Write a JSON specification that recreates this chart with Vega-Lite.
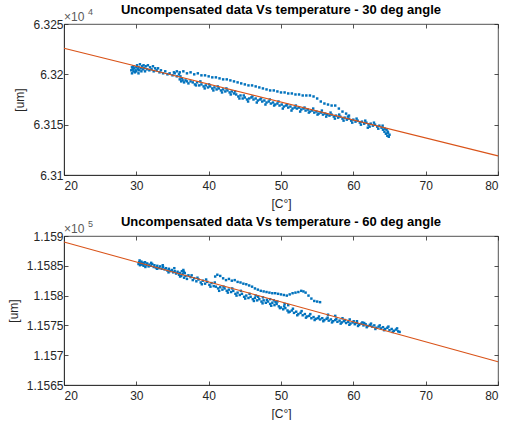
{
  "$schema": "https://vega.github.io/schema/vega-lite/v6.json",
  "padding": {"top": 3, "left": 6, "right": 0, "bottom": 0},
  "spacing": 5,
  "config": {
    "font": "Liberation Sans",
    "view": {"stroke": "#262626", "strokeWidth": 0.8},
    "axis": {
      "labelFont": "Liberation Sans", "titleFont": "Liberation Sans",
      "labelFontSize": 12, "labelColor": "#262626",
      "titleFontSize": 12, "titleFontWeight": "normal", "titleColor": "#262626",
      "domainColor": "#262626", "tickColor": "#262626", "domainWidth": 0.8, "tickWidth": 0.8,
      "tickSize": -4, "grid": false
    },
    "axisX": {"labelPadding": 9, "titlePadding": 7},
    "axisY": {"labelPadding": 5, "titlePadding": 6},
    "title": {"font": "Liberation Sans", "fontSize": 13, "fontWeight": "bold", "color": "#000000", "offset": -9}
  },
  "datasets": {
    "d30": [
      {"T":29.3,"v":6.3204},{"T":29.4,"v":6.3207},{"T":29.4,"v":6.3201},{"T":29.5,"v":6.3205},{"T":29.6,"v":6.3203},{"T":29.6,"v":6.3208},{"T":29.7,"v":6.3206},{"T":29.8,"v":6.3202},{"T":29.9,"v":6.3204},{"T":30.0,"v":6.3207},{"T":30.0,"v":6.3203},{"T":30.1,"v":6.3209},{"T":30.2,"v":6.3205},{"T":30.3,"v":6.3201},{"T":30.3,"v":6.3207},{"T":30.4,"v":6.3204},{"T":30.5,"v":6.3210},{"T":30.6,"v":6.3206},{"T":30.7,"v":6.3203},{"T":30.8,"v":6.3208},{"T":30.9,"v":6.3205},{"T":31.0,"v":6.3209},{"T":31.1,"v":6.3206},{"T":31.2,"v":6.3203},{"T":31.3,"v":6.3208},{"T":31.5,"v":6.3205},{"T":31.6,"v":6.3209},{"T":31.8,"v":6.3204},{"T":31.9,"v":6.3207},{"T":32.1,"v":6.3205},{"T":32.3,"v":6.3208},{"T":32.4,"v":6.3203},{"T":32.6,"v":6.3206},{"T":32.8,"v":6.3204},{"T":33.0,"v":6.3206},{"T":33.2,"v":6.3202},{"T":33.4,"v":6.3204},{"T":33.7,"v":6.3201},{"T":34.0,"v":6.3203},{"T":34.3,"v":6.3200},{"T":34.6,"v":6.3201},{"T":35.0,"v":6.3199},{"T":35.3,"v":6.3201},{"T":35.6,"v":6.3198},{"T":35.9,"v":6.3200},{"T":36.0,"v":6.3195},{"T":36.1,"v":6.3198},{"T":36.2,"v":6.3193},{"T":36.3,"v":6.3196},{"T":36.4,"v":6.3194},{"T":36.6,"v":6.3192},{"T":36.8,"v":6.3194},{"T":37.0,"v":6.3193},{"T":37.2,"v":6.3191},{"T":37.5,"v":6.3193},
      {"T":37.8,"v":6.3192},{"T":38.1,"v":6.3190},{"T":38.4,"v":6.3192},{"T":38.7,"v":6.3189},{"T":39.0,"v":6.3190},{"T":39.3,"v":6.3188},{"T":39.6,"v":6.3189},{"T":39.9,"v":6.3187},{"T":40.2,"v":6.3188},{"T":40.5,"v":6.3186},{"T":40.8,"v":6.3187},{"T":41.1,"v":6.3185},{"T":41.4,"v":6.3186},{"T":41.7,"v":6.3184},{"T":42.0,"v":6.3185},{"T":42.3,"v":6.3183},{"T":42.6,"v":6.3184},{"T":42.9,"v":6.3182},{"T":43.2,"v":6.3183},{"T":43.5,"v":6.3181},{"T":43.8,"v":6.3180},{"T":44.1,"v":6.3178},{"T":44.4,"v":6.3179},{"T":44.7,"v":6.3176},{"T":45.0,"v":6.3177},{"T":45.3,"v":6.3175},{"T":45.6,"v":6.3176},{"T":45.9,"v":6.3177},{"T":46.2,"v":6.3175},{"T":46.5,"v":6.3176},{"T":46.8,"v":6.3174},{"T":47.1,"v":6.3175},{"T":47.4,"v":6.3173},{"T":47.7,"v":6.3174},{"T":48.0,"v":6.3172},{"T":48.3,"v":6.3173},{"T":48.6,"v":6.3171},{"T":48.9,"v":6.3172},{"T":49.2,"v":6.3170},{"T":49.5,"v":6.3171},{"T":49.8,"v":6.3169},{"T":50.1,"v":6.3170},{"T":50.4,"v":6.3168},{"T":50.7,"v":6.3169},{"T":51.0,"v":6.3167},{"T":51.3,"v":6.3168},{"T":51.6,"v":6.3166},{"T":51.9,"v":6.3167},{"T":52.2,"v":6.3166},{"T":52.5,"v":6.3167},{"T":52.8,"v":6.3165},{"T":53.1,"v":6.3166},{"T":53.4,"v":6.3164},{"T":53.7,"v":6.3165},{"T":54.0,"v":6.3163},{"T":54.3,"v":6.3164},{"T":54.6,"v":6.3162},{"T":54.9,"v":6.3163},{"T":55.2,"v":6.3161},{"T":55.5,"v":6.3162},{"T":55.8,"v":6.3160},{"T":56.1,"v":6.3161},{"T":56.4,"v":6.3160},{"T":56.7,"v":6.3159},{"T":57.0,"v":6.3160},{"T":57.3,"v":6.3158},{"T":57.6,"v":6.3159},{"T":57.9,"v":6.3157},{"T":58.2,"v":6.3158},{"T":58.5,"v":6.3156},{"T":58.8,"v":6.3157},{"T":59.1,"v":6.3155},{"T":59.4,"v":6.3156},{"T":59.7,"v":6.3154},{"T":60.0,"v":6.3155},{"T":60.3,"v":6.3153},{"T":60.6,"v":6.3154},{"T":60.9,"v":6.3152},{"T":61.2,"v":6.3153},{"T":61.5,"v":6.3151},{"T":61.8,"v":6.3152},{"T":62.0,"v":6.3147},{"T":62.1,"v":6.3150},{"T":62.4,"v":6.3151},{"T":62.7,"v":6.3149},{"T":63.0,"v":6.3150},{"T":63.3,"v":6.3148},{"T":63.6,"v":6.3149},{"T":63.9,"v":6.3147},{"T":64.1,"v":6.3145},{"T":64.3,"v":6.3143},{"T":64.5,"v":6.3141},{"T":64.6,"v":6.3145},{"T":64.7,"v":6.3139},{"T":64.8,"v":6.3142},{"T":64.9,"v":6.3138},{"T":65.0,"v":6.3140},
      {"T":38.25,"v":6.3189},{"T":38.85,"v":6.3193},{"T":39.45,"v":6.3186},{"T":40.05,"v":6.3190},{"T":40.65,"v":6.3184},{"T":41.25,"v":6.3188},{"T":41.85,"v":6.3182},{"T":42.45,"v":6.3186},{"T":43.05,"v":6.3180},{"T":43.65,"v":6.3183},{"T":44.25,"v":6.3176},{"T":44.85,"v":6.3179},{"T":45.45,"v":6.3173},{"T":46.05,"v":6.3178},{"T":46.65,"v":6.3172},{"T":47.25,"v":6.3176},{"T":47.85,"v":6.3170},{"T":48.45,"v":6.3175},{"T":49.05,"v":6.3169},{"T":49.65,"v":6.3173},{"T":50.25,"v":6.3166},{"T":50.85,"v":6.3170},{"T":51.45,"v":6.3164},{"T":52.05,"v":6.3169},{"T":52.65,"v":6.3163},{"T":53.25,"v":6.3167},{"T":53.85,"v":6.3162},{"T":54.45,"v":6.3166},{"T":55.05,"v":6.3160},{"T":55.65,"v":6.3164},{"T":56.25,"v":6.3158},{"T":56.85,"v":6.3162},{"T":57.45,"v":6.3156},{"T":58.05,"v":6.3160},{"T":58.65,"v":6.3154},{"T":59.25,"v":6.3158},{"T":59.85,"v":6.3152},{"T":60.45,"v":6.3156},{"T":61.05,"v":6.3150},{"T":61.65,"v":6.3154},{"T":62.25,"v":6.3148},{"T":62.85,"v":6.3152},{"T":63.45,"v":6.3146},{"T":64.05,"v":6.3149},{"T":64.35,"v":6.3146},{"T":64.75,"v":6.3143},
      {"T":35.2,"v":6.3202},{"T":35.6,"v":6.3203},{"T":36.0,"v":6.3202},{"T":36.5,"v":6.3203},{"T":37.0,"v":6.3201},{"T":37.5,"v":6.3202},{"T":38.0,"v":6.3200},{"T":38.5,"v":6.3201},{"T":39.0,"v":6.3199},{"T":39.5,"v":6.3199},{"T":40.0,"v":6.3198},{"T":40.5,"v":6.3197},{"T":41.0,"v":6.3197},{"T":41.5,"v":6.3196},{"T":42.0,"v":6.3195},{"T":42.5,"v":6.3195},{"T":43.0,"v":6.3194},{"T":43.5,"v":6.3193},{"T":44.0,"v":6.3192},{"T":44.5,"v":6.3191},{"T":45.0,"v":6.3190},{"T":45.5,"v":6.3189},{"T":46.0,"v":6.3189},{"T":46.5,"v":6.3188},{"T":47.0,"v":6.3187},{"T":47.5,"v":6.3186},{"T":48.0,"v":6.3185},{"T":48.5,"v":6.3184},{"T":49.0,"v":6.3184},{"T":49.5,"v":6.3183},{"T":50.0,"v":6.3182},{"T":50.5,"v":6.3182},{"T":51.0,"v":6.3181},{"T":51.5,"v":6.3181},{"T":52.0,"v":6.3180},{"T":52.5,"v":6.3180},{"T":53.0,"v":6.3179},{"T":53.5,"v":6.3179},{"T":54.0,"v":6.3179},{"T":54.5,"v":6.3178},{"T":55.0,"v":6.3176},{"T":55.5,"v":6.3173},{"T":56.0,"v":6.3171},{"T":56.5,"v":6.3170},{"T":57.0,"v":6.3169},{"T":57.5,"v":6.3169},{"T":58.0,"v":6.3166},{"T":58.5,"v":6.3163},{"T":59.0,"v":6.3161},{"T":59.4,"v":6.3159}
    ],
    "d60": [
      {"T":30.3,"v":1.15853},{"T":30.4,"v":1.15856},{"T":30.5,"v":1.15851},{"T":30.6,"v":1.15854},{"T":30.7,"v":1.15857},{"T":30.8,"v":1.15852},{"T":30.9,"v":1.15855},{"T":31.0,"v":1.15850},{"T":31.1,"v":1.15853},{"T":31.2,"v":1.15856},{"T":31.4,"v":1.15851},{"T":31.5,"v":1.15854},{"T":31.7,"v":1.15849},{"T":31.8,"v":1.15852},{"T":32.0,"v":1.15850},{"T":32.2,"v":1.15853},{"T":32.4,"v":1.15848},{"T":32.5,"v":1.15851},{"T":32.7,"v":1.15847},{"T":32.9,"v":1.15850},{"T":33.1,"v":1.15846},{"T":33.3,"v":1.15849},{"T":33.5,"v":1.15845},{"T":33.7,"v":1.15848},{"T":33.9,"v":1.15844},{"T":34.1,"v":1.15846},{"T":34.3,"v":1.15842},{"T":34.5,"v":1.15845},{"T":34.7,"v":1.15841},{"T":34.9,"v":1.15843},{"T":35.1,"v":1.15839},{"T":35.3,"v":1.15841},{"T":35.5,"v":1.15837},{"T":35.7,"v":1.15840},{"T":35.9,"v":1.15835},{"T":36.0,"v":1.15838},{"T":36.2,"v":1.15833},{"T":36.3,"v":1.15841},{"T":36.4,"v":1.15836},{"T":36.5,"v":1.15843},{"T":36.6,"v":1.15830},{"T":36.7,"v":1.15838},{"T":36.8,"v":1.15833},{"T":37.0,"v":1.15828},{"T":37.2,"v":1.15834},
      {"T":30.45,"v":1.15859},{"T":31.25,"v":1.15848},{"T":32.05,"v":1.15855},{"T":32.85,"v":1.15845},{"T":33.65,"v":1.15851},{"T":34.45,"v":1.15839},{"T":35.25,"v":1.15846},{"T":36.05,"v":1.15832},{"T":36.55,"v":1.15840},
      {"T":37.5,"v":1.15831},{"T":37.8,"v":1.15826},{"T":38.0,"v":1.15829},{"T":38.3,"v":1.15824},{"T":38.6,"v":1.15827},{"T":38.9,"v":1.15822},{"T":39.2,"v":1.15825},{"T":39.5,"v":1.15820},{"T":39.8,"v":1.15823},{"T":40.1,"v":1.15818},{"T":40.4,"v":1.15821},{"T":40.7,"v":1.15816},
      {"T":41.0,"v":1.15815},{"T":41.3,"v":1.15812},{"T":41.6,"v":1.15814},{"T":41.9,"v":1.15810},{"T":42.2,"v":1.15812},{"T":42.5,"v":1.15808},{"T":42.8,"v":1.15810},{"T":43.1,"v":1.15806},{"T":43.4,"v":1.15808},{"T":43.7,"v":1.15803},{"T":44.0,"v":1.15805},{"T":44.3,"v":1.15801},{"T":44.6,"v":1.15803},{"T":44.9,"v":1.15798},{"T":45.2,"v":1.15800},{"T":45.5,"v":1.15796},{"T":45.8,"v":1.15798},{"T":46.1,"v":1.15794},{"T":46.4,"v":1.15796},{"T":46.7,"v":1.15792},{"T":47.0,"v":1.15794},{"T":47.3,"v":1.15790},{"T":47.6,"v":1.15792},{"T":47.9,"v":1.15788},{"T":48.2,"v":1.15790},{"T":48.5,"v":1.15786},{"T":48.8,"v":1.15788},{"T":49.1,"v":1.15784},{"T":49.4,"v":1.15786},{"T":49.7,"v":1.15782},{"T":50.0,"v":1.15780},{"T":50.3,"v":1.15777},{"T":50.6,"v":1.15779},{"T":50.9,"v":1.15775},{"T":51.2,"v":1.15773},{"T":51.5,"v":1.15775},{"T":51.8,"v":1.15771},{"T":52.1,"v":1.15773},{"T":52.4,"v":1.15769},{"T":52.7,"v":1.15771},{"T":53.0,"v":1.15767},{"T":53.3,"v":1.15769},{"T":53.6,"v":1.15765},{"T":53.9,"v":1.15766},{"T":54.2,"v":1.15762},{"T":54.5,"v":1.15764},{"T":54.8,"v":1.15761},{"T":55.1,"v":1.15762},{"T":55.4,"v":1.15760},{"T":55.7,"v":1.15762},{"T":56.0,"v":1.15759},{"T":56.3,"v":1.15761},{"T":56.6,"v":1.15758},{"T":56.9,"v":1.15760},{"T":57.2,"v":1.15757},{"T":57.5,"v":1.15759},{"T":57.8,"v":1.15756},{"T":58.1,"v":1.15758},{"T":58.4,"v":1.15755},{"T":58.7,"v":1.15757},{"T":59.0,"v":1.15754},{"T":59.3,"v":1.15756},{"T":59.6,"v":1.15753},{"T":59.9,"v":1.15755},{"T":60.2,"v":1.15752},{"T":60.5,"v":1.15754},{"T":60.8,"v":1.15751},{"T":61.1,"v":1.15753},{"T":61.4,"v":1.15750},{"T":61.7,"v":1.15752},{"T":62.0,"v":1.15749},{"T":62.3,"v":1.15751},{"T":62.6,"v":1.15748},{"T":62.9,"v":1.15750},{"T":63.2,"v":1.15746},{"T":63.5,"v":1.15748},{"T":63.8,"v":1.15745},{"T":64.1,"v":1.15747},{"T":64.4,"v":1.15744},{"T":64.7,"v":1.15746},{"T":65.0,"v":1.15742},{"T":65.3,"v":1.15744},{"T":65.6,"v":1.15741},{"T":65.9,"v":1.15743},{"T":66.2,"v":1.15740},{"T":66.4,"v":1.15739},
      {"T":37.65,"v":1.15834},{"T":38.45,"v":1.15830},{"T":39.05,"v":1.15819},{"T":39.65,"v":1.15827},{"T":40.25,"v":1.15815},{"T":40.85,"v":1.15822},{"T":41.45,"v":1.15808},{"T":42.05,"v":1.15815},{"T":42.65,"v":1.15805},{"T":43.25,"v":1.15812},{"T":43.85,"v":1.15800},{"T":44.45,"v":1.15808},{"T":45.05,"v":1.15795},{"T":45.65,"v":1.15803},{"T":46.25,"v":1.15791},{"T":46.85,"v":1.15798},{"T":47.45,"v":1.15787},{"T":48.05,"v":1.15793},{"T":48.65,"v":1.15783},{"T":49.25,"v":1.15789},{"T":49.85,"v":1.15779},{"T":50.45,"v":1.15782},{"T":51.05,"v":1.15772},{"T":51.65,"v":1.15778},{"T":52.25,"v":1.15767},{"T":52.85,"v":1.15774},{"T":53.45,"v":1.15763},{"T":54.05,"v":1.15769},{"T":54.65,"v":1.15759},{"T":55.25,"v":1.15765},{"T":55.85,"v":1.15757},{"T":56.45,"v":1.15763},{"T":57.05,"v":1.15755},{"T":57.65,"v":1.15761},{"T":58.25,"v":1.15753},{"T":58.85,"v":1.15759},{"T":59.45,"v":1.15751},{"T":60.05,"v":1.15757},{"T":60.65,"v":1.15749},{"T":61.25,"v":1.15755},{"T":61.85,"v":1.15747},{"T":62.45,"v":1.15753},{"T":63.05,"v":1.15744},{"T":63.65,"v":1.15750},{"T":64.25,"v":1.15742},{"T":64.85,"v":1.15748},{"T":65.45,"v":1.15739},{"T":66.05,"v":1.15745},
      {"T":56.5,"v":1.15768},{"T":57.5,"v":1.15766},{"T":58.5,"v":1.15762},{"T":59.5,"v":1.15760},{"T":60.5,"v":1.15757},{"T":61.5,"v":1.15754},
      {"T":40.9,"v":1.15832},{"T":41.2,"v":1.15835},{"T":41.6,"v":1.15833},{"T":42.0,"v":1.15829},{"T":42.4,"v":1.15826},{"T":42.8,"v":1.15828},{"T":43.2,"v":1.15825},{"T":43.6,"v":1.15826},{"T":44.0,"v":1.15823},{"T":44.4,"v":1.15822},{"T":44.8,"v":1.15820},{"T":45.2,"v":1.15819},{"T":45.6,"v":1.15817},{"T":46.0,"v":1.15815},{"T":46.4,"v":1.15812},{"T":46.8,"v":1.15810},{"T":47.2,"v":1.15808},{"T":47.6,"v":1.15807},{"T":48.0,"v":1.15806},{"T":48.4,"v":1.15805},{"T":48.8,"v":1.15804},{"T":49.2,"v":1.15804},{"T":49.6,"v":1.15803},{"T":50.0,"v":1.15802},{"T":50.4,"v":1.15801},{"T":50.8,"v":1.15800},{"T":51.2,"v":1.15802},{"T":51.6,"v":1.15804},{"T":52.0,"v":1.15805},{"T":52.4,"v":1.15806},{"T":52.8,"v":1.15808},{"T":53.1,"v":1.15807},{"T":53.4,"v":1.15805},{"T":53.8,"v":1.15800},{"T":54.2,"v":1.15795},{"T":54.6,"v":1.15791},{"T":55.0,"v":1.15790},{"T":55.4,"v":1.15789},
      {"T":46.5,"v":1.15800},{"T":47.5,"v":1.15797},{"T":48.5,"v":1.15794},{"T":49.0,"v":1.15792},{"T":49.5,"v":1.15790},{"T":50.5,"v":1.15786},{"T":51.0,"v":1.15784}
    ],
    "f30": [{"T":20,"v":6.3226},{"T":80,"v":6.3119}],
    "f60": [{"T":20,"v":1.15890},{"T":80,"v":1.15689}],
    "e30": [{"T":20,"v":6.325,"b":"×10","p":"4"}],
    "e60": [{"T":20,"v":1.159,"b":"×10","p":"5"}]
  },
  "vconcat": [
    {
      "width": 434, "height": 151,
      "title": {"text": "Uncompensated data Vs temperature - 30 deg angle"},
      "layer": [
        {
          "data": {"name": "d30"},
          "mark": {"type": "square", "size": 6, "filled": true, "color": "#0072BD", "opacity": 1},
          "encoding": {
            "x": {"field": "T", "type": "quantitative", "scale": {"domain": [20, 80], "nice": false, "zero": false},
                  "axis": {"values": [20,30,40,50,60,70,80], "title": "[C°]"}},
            "y": {"field": "v", "type": "quantitative", "scale": {"domain": [6.31, 6.325], "nice": false, "zero": false},
                  "axis": {"values": [6.31,6.315,6.32,6.325], "format": ".3~f", "title": "[um]"}}
          }
        },
        {
          "data": {"name": "f30"},
          "mark": {"type": "line", "color": "#D95319", "strokeWidth": 1.1},
          "encoding": {
            "x": {"field": "T", "type": "quantitative", "axis": {"orient": "top", "values": [20,30,40,50,60,70,80], "labels": false, "title": null, "domain": false}},
            "y": {"field": "v", "type": "quantitative", "axis": {"orient": "right", "values": [6.31,6.315,6.32,6.325], "labels": false, "title": null, "domain": false}}
          }
        },
        {
          "data": {"name": "e30"},
          "mark": {"type": "text", "align": "left", "baseline": "alphabetic", "dy": -3, "fontSize": 12, "color": "#595959"},
          "encoding": {
            "x": {"field": "T", "type": "quantitative", "axis": null},
            "y": {"field": "v", "type": "quantitative", "axis": null},
            "text": {"field": "b"}
          }
        },
        {
          "data": {"name": "e30"},
          "mark": {"type": "text", "align": "left", "baseline": "alphabetic", "dx": 24, "dy": -9, "fontSize": 9, "color": "#595959"},
          "encoding": {
            "x": {"field": "T", "type": "quantitative", "axis": null},
            "y": {"field": "v", "type": "quantitative", "axis": null},
            "text": {"field": "p"}
          }
        }
      ],
      "resolve": {"axis": {"x": "independent", "y": "independent"}}
    },
    {
      "width": 434, "height": 149,
      "title": {"text": "Uncompensated data Vs temperature - 60 deg angle"},
      "layer": [
        {
          "data": {"name": "d60"},
          "mark": {"type": "square", "size": 6, "filled": true, "color": "#0072BD", "opacity": 1},
          "encoding": {
            "x": {"field": "T", "type": "quantitative", "scale": {"domain": [20, 80], "nice": false, "zero": false},
                  "axis": {"values": [20,30,40,50,60,70,80], "title": "[C°]"}},
            "y": {"field": "v", "type": "quantitative", "scale": {"domain": [1.1565, 1.159], "nice": false, "zero": false},
                  "axis": {"values": [1.1565,1.157,1.1575,1.158,1.1585,1.159], "format": ".4~f", "title": "[um]"}}
          }
        },
        {
          "data": {"name": "f60"},
          "mark": {"type": "line", "color": "#D95319", "strokeWidth": 1.1},
          "encoding": {
            "x": {"field": "T", "type": "quantitative", "axis": {"orient": "top", "values": [20,30,40,50,60,70,80], "labels": false, "title": null, "domain": false}},
            "y": {"field": "v", "type": "quantitative", "axis": {"orient": "right", "values": [1.1565,1.157,1.1575,1.158,1.1585,1.159], "labels": false, "title": null, "domain": false}}
          }
        },
        {
          "data": {"name": "e60"},
          "mark": {"type": "text", "align": "left", "baseline": "alphabetic", "dy": -3, "fontSize": 12, "color": "#595959"},
          "encoding": {
            "x": {"field": "T", "type": "quantitative", "axis": null},
            "y": {"field": "v", "type": "quantitative", "axis": null},
            "text": {"field": "b"}
          }
        },
        {
          "data": {"name": "e60"},
          "mark": {"type": "text", "align": "left", "baseline": "alphabetic", "dx": 24, "dy": -9, "fontSize": 9, "color": "#595959"},
          "encoding": {
            "x": {"field": "T", "type": "quantitative", "axis": null},
            "y": {"field": "v", "type": "quantitative", "axis": null},
            "text": {"field": "p"}
          }
        }
      ],
      "resolve": {"axis": {"x": "independent", "y": "independent"}}
    }
  ]
}
